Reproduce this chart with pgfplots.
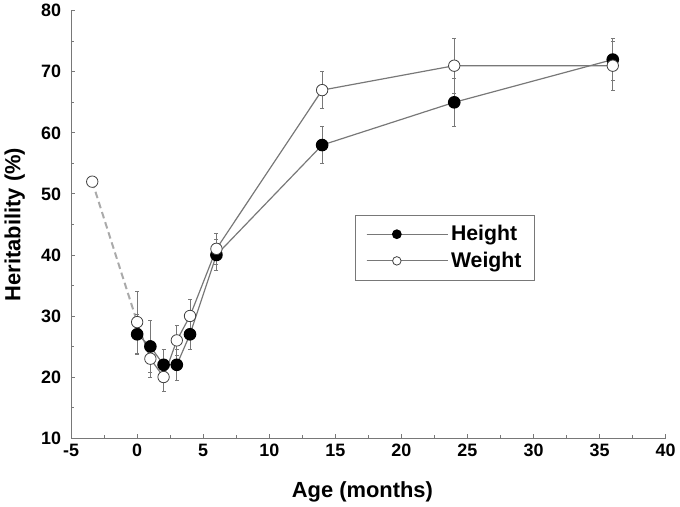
\documentclass[border=0pt]{standalone}
\usepackage{fontspec}
\setmainfont{Liberation Sans}
\usepackage{pgfplots}
\pgfplotsset{compat=1.18}
\definecolor{lineg}{RGB}{120,120,120}
\definecolor{dashg}{RGB}{170,170,170}
\begin{document}
\begin{tikzpicture}
\begin{axis}[
  scale only axis, width=448pt, height=322pt,
  xmin=-5, xmax=40, ymin=10, ymax=80,
  axis lines=left,
  axis line style={lineg, -, line width=0.8pt},
  xtick={-5,0,...,40}, ytick={10,20,...,80},
  minor x tick num=1, minor y tick num=1,
  tick align=inside, major tick length=3pt, minor tick length=2pt,
  tick style={lineg, line width=0.6pt},
  /pgf/number format/assume math mode=true,
  ticklabel style={font=\fontsize{13.5}{15}\selectfont\bfseries},
  yticklabel style={xshift=-4pt},
  xticklabel style={yshift=-1pt},
  xlabel={Age (months)}, ylabel={Heritability (\%)},
  every axis x label/.style={at={(axis description cs:0.49,-0.125)}, anchor=center,
    font=\fontsize{16.5}{18}\selectfont\bfseries},
  every axis y label/.style={at={(axis description cs:-0.095,0.5)}, rotate=90, anchor=center,
    font=\fontsize{16.5}{18}\selectfont\bfseries},
  legend style={at={(axis cs:16.5,46.6)}, anchor=north west, draw=lineg,
    font=\fontsize{16}{18}\selectfont\bfseries, inner xsep=8pt, inner ysep=6pt,
    row sep=3pt, cells={anchor=west}},
  legend image code/.code={%
    \path (0cm,0cm) -- (2.15cm,0cm);
    \draw[#1, mark=none] (0cm,0cm) -- (1.6cm,0cm);
    \draw[#1, only marks, mark size=3.2pt] plot coordinates {(0.8cm,0cm)};},
  error bars/y dir=both, error bars/y explicit,
  error bars/error bar style={lineg, line width=0.6pt, solid},
  error bars/error mark options={rotate=90, mark size=1.5pt, lineg, line width=0.6pt},
]
% dashed prenatal link
\addplot[dashg, dash pattern=on 5pt off 3pt, line width=1.5pt, mark=none, forget plot, error bars/y dir=none]
  coordinates {(-3.4,52) (0,29)};
\addplot[only marks, mark=*, mark size=4.3pt, mark options={fill=white, draw=black!75, line width=0.6pt}, forget plot, error bars/y dir=none]
  coordinates {(-3.4,52)};
% Height
\addplot[lineg, line width=0.9pt, mark=*, mark size=4.3pt, mark options={fill=black, draw=black}]
  table[x=x, y=y, y error=e] {
x y e
0 27 3.3
1 25 4.2
2 22 2.5
3 22 2.6
4 27 2.5
6 40 2.5
14 58 3
24 65 4
36 72 3.4
};
\addlegendentry{Height}
% Weight
\addplot[lineg, line width=0.9pt, mark=*, mark size=4.3pt, mark options={fill=white, draw=black!75, line width=0.6pt}]
  table[x=x, y=y, y error=e] {
x y e
0 29 5.1
1 23 3
2 20 2.4
3 26 2.5
4 30 2.7
6 41 2.5
14 67 3
24 71 4.5
36 71 4
};
\addlegendentry{Weight}
\end{axis}
\end{tikzpicture}
\end{document}
